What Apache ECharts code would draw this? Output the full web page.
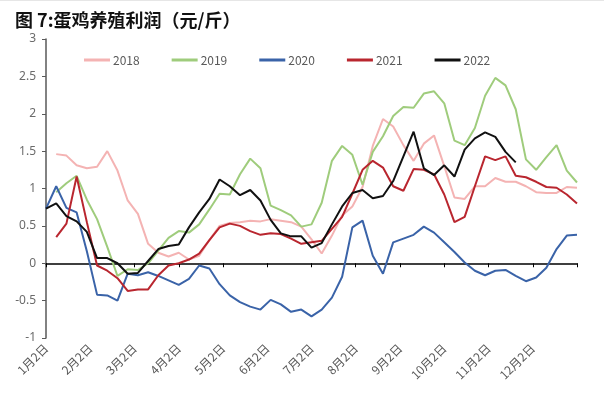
<!DOCTYPE html>
<html>
<head>
<meta charset="utf-8">
<script src="https://cdn.jsdelivr.net/npm/echarts@6/dist/echarts.min.js"></script>
<style>
html, body { margin: 0; padding: 0; background: #fff; }
#main { width: 604px; height: 399px; }
</style>
</head>
<body>
<div id="main"></div>
<script>
// 周度数据，每年53个点（第0周 ~ 第52周），缺失用 null
var years = ['2018', '2019', '2020', '2021', '2022'];
var monthLabels = ['1月2日', '2月2日', '3月2日', '4月2日', '5月2日', '6月2日', '7月2日', '8月2日', '9月2日', '10月2日', '11月2日', '12月2日'];
var yTicks = [-1, 3, 0.5]; // min, max, interval

var d2018 = [null, 1.46, 1.44, 1.31, 1.27, 1.29, 1.50, 1.24, 0.84, 0.66, 0.26,
	0.14, 0.09, 0.14, 0.05, 0.10, 0.31, 0.50, 0.54, 0.55, 0.57,
	0.56, 0.59, 0.57, 0.55, 0.49, 0.32, 0.13, 0.37, 0.64, 0.76,
	1.02, 1.57, 1.93, 1.83, 1.58, 1.37, 1.60, 1.71, 1.30, 0.88,
	0.86, 1.03, 1.03, 1.14, 1.09, 1.09, 1.03, 0.95, 0.94, 0.94,
	1.02, 1.01];
var d2019 = [null, 0.95, 1.07, 1.17, 0.85, 0.59, 0.22, -0.17, -0.08, -0.09, 0.0,
	0.17, 0.34, 0.43, 0.41, 0.52, 0.72, 0.93, 0.92, 1.19, 1.40,
	1.27, 0.77, 0.71, 0.64, 0.49, 0.52, 0.81, 1.37, 1.57, 1.45,
	1.05, 1.49, 1.70, 1.97, 2.09, 2.08, 2.27, 2.30, 2.14, 1.64,
	1.58, 1.81, 2.24, 2.48, 2.38, 2.06, 1.39, 1.25, 1.42, 1.58,
	1.24, 1.08];
var d2020 = [0.73, 1.03, 0.74, 0.68, 0.16, -0.42, -0.43, -0.50, -0.14, -0.16,
	-0.12, -0.17, -0.23, -0.29, -0.21, -0.03, -0.07, -0.28, -0.43, -0.52,
	-0.58, -0.62, -0.49, -0.55, -0.65, -0.62, -0.71, -0.62, -0.46, -0.18,
	0.48, 0.57, 0.10, -0.14, 0.28, 0.33, 0.38, 0.49, 0.41, 0.28,
	0.15, 0.01, -0.10, -0.16, -0.10, -0.09, -0.17, -0.24, -0.19, -0.06,
	0.19, 0.37, 0.38];
var d2021 = [null, 0.35, 0.53, 1.16, 0.55, -0.03, -0.10, -0.20, -0.37, -0.35, -0.35,
	-0.16, -0.03, 0.0, 0.05, 0.13, 0.31, 0.48, 0.53, 0.50, 0.43,
	0.38, 0.40, 0.39, 0.33, 0.26, 0.28, 0.30, 0.46, 0.62, 0.93,
	1.25, 1.37, 1.28, 1.03, 0.97, 1.26, 1.25, 1.19, 0.92, 0.55,
	0.62, 1.03, 1.43, 1.38, 1.43, 1.17, 1.15, 1.09, 1.02, 1.01,
	0.92, 0.80];
var d2022 = [0.73, 0.80, 0.63, 0.56, 0.42, 0.07, 0.07, 0.0, -0.14, -0.13,
	0.03, 0.19, 0.23, 0.25, 0.48, 0.68, 0.86, 1.12, 1.03, 0.91,
	0.98, 0.84, 0.58, 0.40, 0.36, 0.36, 0.21, 0.27, 0.52, 0.76,
	0.94, 0.98, 0.87, 0.90, 1.10, 1.43, 1.76, 1.27, 1.18, 1.31,
	1.16, 1.52, 1.67, 1.75, 1.69, 1.49, 1.35];

var allData = [d2018, d2019, d2020, d2021, d2022];
var colors = ['#F4B3B3', '#9FCC7C', '#3A63A8', '#B9262F', '#111111'];

var weeksInYear = 52;
var monthStep = weeksInYear / 12;

// [周序号, 值]
function toPairs(arr) {
	var out = [];
	for (var i = 0; i < arr.length; i++) {
		if (arr[i] !== null) out.push([i, arr[i]]);
	}
	return out;
}

var seriesList = [];
for (var k = 0; k < years.length; k++) {
	seriesList.push({
		name: years[k],
		type: 'line',
		data: toPairs(allData[k]),
		symbol: 'none',
		smooth: false,
		lineStyle: { width: 2, color: colors[k] },
		itemStyle: { color: colors[k] },
		z: 2 + k
	});
}

var myChart = echarts.init(document.getElementById('main'));
var option = {
	backgroundColor: '#fff',
	animation: false,
	title: {
		text: '图 7:蛋鸡养殖利润（元/斤）',
		left: 10,
		top: 6,
		textStyle: {
			fontFamily: 'Noto Sans CJK SC',
			fontWeight: 'bold',
			fontSize: 18,
			color: '#111'
		}
	},
	legend: {
		data: years,
		left: 79,
		top: 49,
		icon: 'rect',
		itemWidth: 26,
		itemHeight: 3,
		itemGap: 32,
		textStyle: {
			fontFamily: 'Noto Sans CJK SC',
			fontSize: 12,
			color: '#595959',
			padding: [0, 0, 0, -2]
		}
	},
	grid: {
		left: 46,
		right: 27,
		top: 39,
		bottom: 61
	},
	xAxis: [{
		// 底部标签
		type: 'value',
		min: 0,
		max: weeksInYear,
		interval: monthStep,
		position: 'bottom',
		axisLine: { show: false, onZero: false },
		axisTick: { show: false },
		splitLine: { show: false },
		axisLabel: {
			rotate: 45,
			margin: 8,
			fontSize: 12,
			fontFamily: 'Noto Sans CJK SC',
			color: '#595959',
			formatter: function(v) {
				var idx = Math.round(v / monthStep);
				return idx < 12 ? monthLabels[idx] : '';
			}
		}
	}, {
		// 零线
		type: 'value',
		min: 0,
		max: weeksInYear,
		interval: monthStep,
		position: 'bottom',
		axisLine: { show: true, onZero: true, lineStyle: { color: '#000', width: 1.5 } },
		axisTick: { show: true, inside: false, length: 4, lineStyle: { color: '#000' } },
		axisLabel: { show: false },
		splitLine: { show: false }
	}],
	yAxis: {
		type: 'value',
		min: yTicks[0],
		max: yTicks[1],
		interval: yTicks[2],
		axisLine: { show: true, lineStyle: { color: '#595959', width: 1.5 } },
		axisTick: { show: true, length: 4, lineStyle: { color: '#595959' } },
		splitLine: { show: false },
		axisLabel: {
			fontSize: 12,
			margin: 10,
			fontFamily: 'Noto Sans',
			color: '#6b6b6b'
		}
	},
	graphic: [{
		type: 'line',
		shape: { x1: 0, y1: 0.5, x2: 604, y2: 0.5 },
		style: { stroke: '#e6e6e6', lineWidth: 1 }
	}],
	series: seriesList
};
myChart.setOption(option);
</script>
</body>
</html>
